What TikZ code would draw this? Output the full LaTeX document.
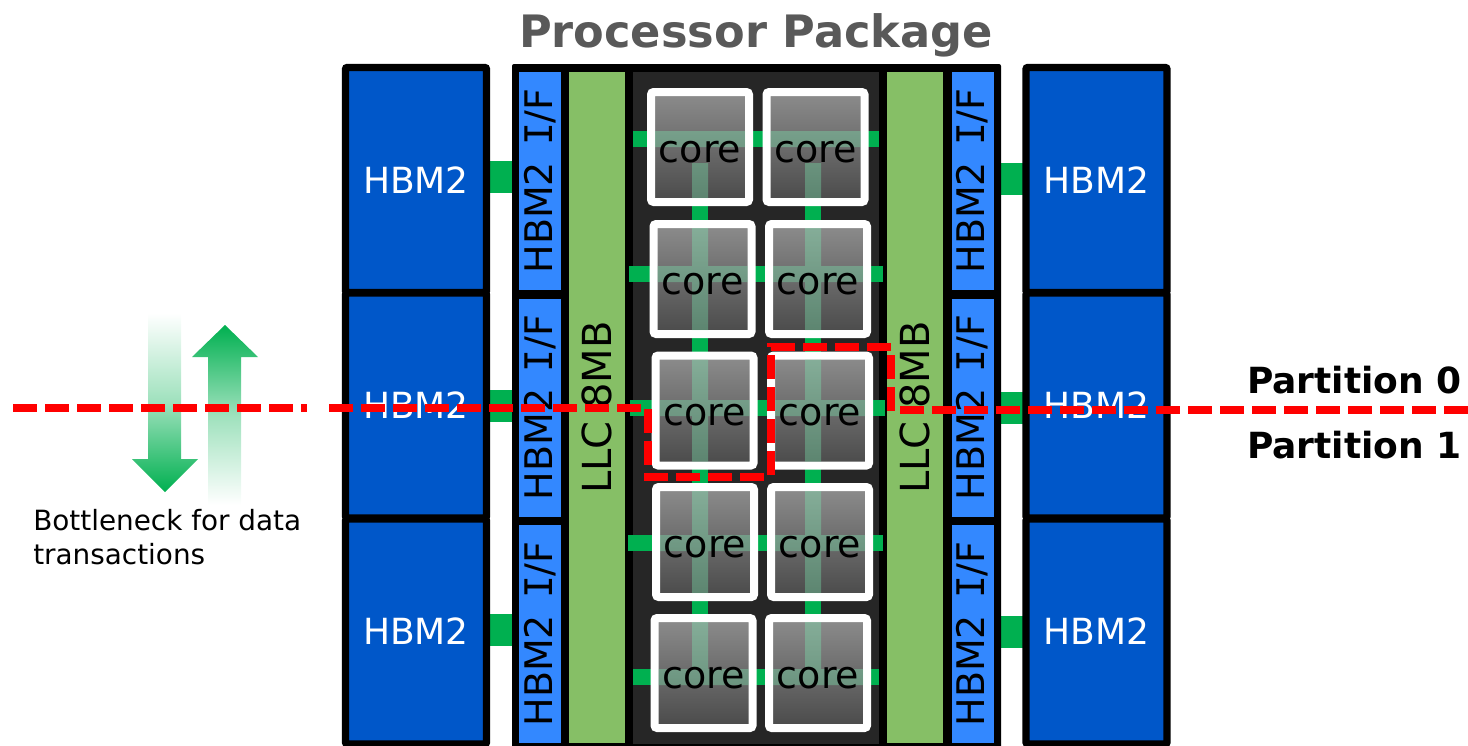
\documentclass[tikz,border=0pt]{standalone}
\usepackage{fontspec}
\setmainfont{DejaVu Sans}
\newfontfamily\slabfont{DejaVu Sans Mono}
\usepackage{tikz}
\usetikzlibrary{calc}
\definecolor{hbmblue}{HTML}{0057C9}
\definecolor{ifblue}{HTML}{3388FF}
\definecolor{llcgreen}{HTML}{86BF66}
\definecolor{diedark}{HTML}{262626}
\definecolor{linkgreen}{HTML}{00B050}
\definecolor{barglow}{HTML}{7CF0B4}
\definecolor{titlegray}{HTML}{595959}
\newcommand{\iftext}{HBM2\hspace{0.42em}{\slabfont I}/F}
\tikzset{
    hbmbox/.style={rectangle, draw=black, line width=5.6pt, rounded corners=1.5pt, fill=hbmblue, text=white,
        minimum width=105.75pt, minimum height=168.75pt, inner sep=0pt, font=\fontsize{27}{30}\selectfont},
    ifbox/.style={rectangle, rotate=90, fill=ifblue, minimum width=163.5pt, minimum height=31.5pt,
        inner sep=0pt, font=\fontsize{28.5}{32}\selectfont},
    llcbox/.style={rectangle, rotate=90, fill=llcgreen, minimum width=503.25pt, minimum height=42pt,
        inner sep=0pt, font=\fontsize{30}{34}\selectfont},
    corebox/.style={rectangle, draw=white, line width=6pt, rounded corners=2pt, top color=black!45, bottom color=black!71,
        minimum width=73.5pt, minimum height=82.5pt, inner sep=0pt},
    coretext/.style={inner sep=0pt, font=\fontsize{28.5}{32}\selectfont},
    partlabel/.style={inner sep=0pt, anchor=east, font=\fontsize{27}{30}\bfseries\selectfont},
    cutline/.style={red, line width=6pt, dash pattern=on 18pt off 6pt},
    link/.style={fill=linkgreen}
}
\begin{document}
\begin{tikzpicture}[x=0.75pt,y=-0.75pt]
\clip (0,0) rectangle (1468,746);

\node (title) at (756,47) [anchor=base, text=titlegray, inner sep=0pt, font=\fontsize{33.5}{40}\bfseries\selectfont] {Processor Package};

% Links to the memory stacks
\foreach \ly/\ry in {161/163,390/392,614/616} {
    \fill[link] (488,\ly) rectangle (514,\ly+32);
    \fill[link] (999,\ry) rectangle (1026,\ry+32);
}

% Memory stacks
\node (hbmL0) at (416,180) [hbmbox] {HBM2};
\node (hbmL1) at (416,405.5) [hbmbox] {HBM2};
\node (hbmL2) at (416,631.5) [hbmbox] {HBM2};
\node (hbmR0) at (1096.5,180) [hbmbox] {HBM2};
\node (hbmR1) at (1096.5,405.5) [hbmbox] {HBM2};
\node (hbmR2) at (1096.5,631.5) [hbmbox] {HBM2};

% Package
\fill[black, rounded corners=1.5pt] (512,64) rectangle (1001,750);
\node (ifL0) at (540,181) [ifbox] {\iftext};
\node (ifL1) at (540,407.5) [ifbox] {\iftext};
\node (ifL2) at (540,634) [ifbox] {\iftext};
\node (ifR0) at (972.5,181) [ifbox] {\iftext};
\node (ifR1) at (972.5,407.5) [ifbox] {\iftext};
\node (ifR2) at (972.5,634) [ifbox] {\iftext};
\node (llcL) at (597,407.5) [llcbox] {LLC 8MB};
\node (llcR) at (915,407.5) [llcbox] {LLC 8MB};
\fill[diedark] (633,72) rectangle (879,744);

% Mesh behind the cores
\fill[link] (692,163) rectangle (708,669);
\fill[link] (805,163) rectangle (821,669);
\foreach \hy/\xl/\xr in {139/633/879,274/629/883,408/630/885,543/628/883,677/633/879} {
    \fill[link] (\xl,\hy-8) rectangle (\xr,\hy+8);
}

% Cores
\foreach \row/\cy/\hy/\xa/\xb/\vt/\vb in {
    0/147/139/700/815.5/163/198,
    1/279/274/702.5/818/228/330,
    2/410.5/408/704.5/820/359.5/461.5,
    3/542/543/705/820/491/593,
    4/673/677/703.5/818/622/669} {
    \node (core\row a) at (\xa,\cy) [corebox] {};
    \node (core\row b) at (\xb,\cy) [corebox] {};
    \fill[barglow, opacity=0.35] (\xa-45,\hy-8) rectangle (\xa+45,\hy+8) (692,\vt) rectangle (708,\vb);
    \fill[barglow, opacity=0.35] (\xb-45,\hy-8) rectangle (\xb+45,\hy+8) (805,\vt) rectangle (821,\vb);
    \node (label\row a) at (\xa,\cy+5) [coretext] {core};
    \node (label\row b) at (\xb,\cy+5) [coretext] {core};
}

% Bottleneck arrows
\shade[top color=white, bottom color=linkgreen, middle color=linkgreen!38!white] (148,313) -- (181,313) -- (181,459) -- (198,459) -- (165,492) -- (132,459) -- (148,459) -- cycle;
\shade[top color=linkgreen, bottom color=white, middle color=linkgreen!38!white] (225,325) -- (258,357) -- (241,357) -- (241,505) -- (208,505) -- (208,357) -- (192,357) -- cycle;
\node (note) at (33,537) [anchor=west, inner sep=0pt, align=left, font=\fontsize{20.9}{25}\selectfont] {Bottleneck for data\\transactions};

% Partition boundary
\coordinate (cutA) at (13,408);
\coordinate (cutB) at (307,408);
\coordinate (cutC) at (329,408);
\coordinate (cutD) at (641,408);
\coordinate (cutE) at (648,409);
\coordinate (cutF) at (648,477);
\coordinate (cutG) at (765,477);
\coordinate (cutH) at (771,475);
\coordinate (cutI) at (771,347);
\coordinate (cutJ) at (891,347);
\coordinate (cutK) at (891,414);
\coordinate (cutL) at (900,410);
\coordinate (cutM) at (1468,410);
\draw[cutline] (cutA) -- (cutB);
\draw[cutline] (cutC) -- (cutD);
\draw[cutline] (cutE) -- (cutF) -- (cutG);
\draw[cutline] (cutH) -- (cutI) -- (cutJ) -- (cutK);
\draw[cutline] (cutL) -- (cutM);

\node (part0) at (1462,380) [partlabel] {Partition 0};
\node (part1) at (1462,445) [partlabel] {Partition 1};

\end{tikzpicture}
\end{document}
